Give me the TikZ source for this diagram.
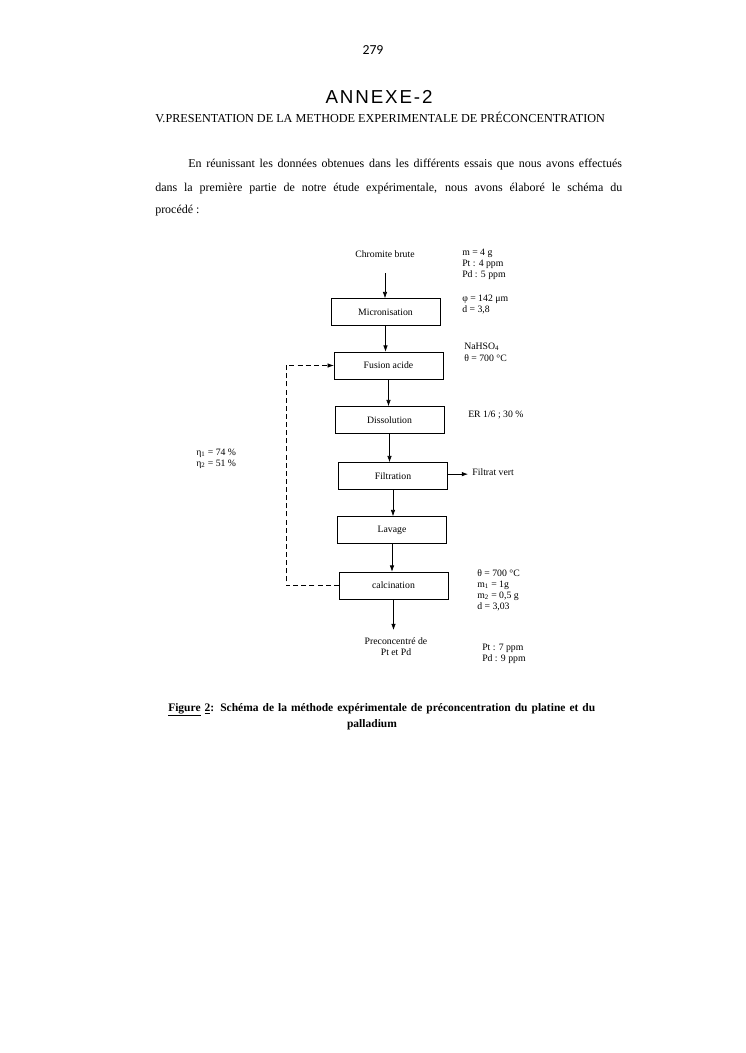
\documentclass[tikz,border=0pt]{standalone}
\usepackage{fontspec}
\setmainfont{Liberation Serif}
\newfontfamily\pagenumfont{Carlito}
\newfontfamily\handfont[LetterSpace=10]{Liberation Sans}
\usetikzlibrary{positioning, arrows.meta, calc}

\begin{document}
\begin{tikzpicture}[
    x=0.8pt, y=-0.8pt,
    etape/.style={
      draw, line width=0.5pt, minimum width=87pt,
      minimum height=21.6pt, inner sep=0pt, font=\fontsize{7.8}{9}\selectfont
    },
    note/.style={anchor=north west, align=left, inner sep=0pt,
      font=\fontsize{7.8}{8.8}\selectfont},
    fleche/.style={-{Latex[length=5pt,width=3.6pt]}, line width=0.5pt},
    retour/.style={dash pattern=on 4pt off 2.5pt, line width=0.5pt},
    ligne/.style={anchor=base west, inner sep=0pt, font=\fontsize{9.6}{11}\selectfont},
]
    \useasboundingbox[fill=white] (0,0) rectangle (745,1053);

    % En-tete de page
    \node[font=\pagenumfont\fontsize{11}{12}\selectfont] (page) at (373,50) {279};
    \node[font=\handfont\fontsize{15}{16}\selectfont] (annexe) at (379,97) {ANNEXE-2};
    \node[anchor=base west, inner sep=0pt, font=\fontsize{9.75}{11}\selectfont] (titre)
      at (155,122) {V.PRESENTATION DE LA METHODE EXPERIMENTALE DE PRÉCONCENTRATION};

    \node[ligne] (l1) at (188,167)
      {\makebox[347pt][s]{En réunissant les données obtenues dans les différents essais que nous avons effectués}};
    \node[ligne] (l2) at (155,191)
      {\makebox[373.6pt][s]{dans la première partie de notre étude expérimentale, nous avons élaboré le schéma du}};
    \node[ligne] (l3) at (155,213) {procédé :};

    % Etapes du procede
    \node[font=\fontsize{7.8}{9}\selectfont] (chromite) at (385,254) {Chromite brute};
    \node[etape] (micro) at (385.5,312) {Micronisation};
    \node[etape] (fusion) at (388.5,365.5) {Fusion acide};
    \node[etape] (dissol) at (389.5,420) {Dissolution};
    \node[etape] (filtr) at (393,476) {Filtration};
    \node[etape] (lavage) at (392,530) {Lavage};
    \node[etape] (calcin) at (393.5,585.5) {calcination};
    \node[align=center, font=\fontsize{7.8}{8.6}\selectfont] (preco) at (396,647)
      {Preconcentré de\\Pt et Pd};
    \node[anchor=west, font=\fontsize{7.8}{9}\selectfont] (filtrat) at (468,472) {Filtrat vert};

    \draw[fleche, shorten <=9pt] (chromite) -- (chromite |- micro.north);
    \draw[fleche] (micro.south) -- (micro.south |- fusion.north);
    \draw[fleche] (fusion.south) -- (fusion.south |- dissol.north);
    \draw[fleche] (dissol.south) -- (dissol.south |- filtr.north);
    \draw[fleche] (filtr.south) -- (filtr.south |- lavage.north);
    \draw[fleche] (lavage.south) -- (lavage.south |- calcin.north);
    \draw[fleche, shorten >=3pt] (calcin.south) -- (calcin.south |- preco.north);
    \draw[fleche] ([yshift=1.5pt]filtr.east) -- ([yshift=1.5pt]filtr.east -| filtrat.west);

    % Recyclage
    \coordinate (boucle) at (286,585.5);
    \draw[retour, fleche] (calcin.west) -- (boucle) |- (fusion.west);

    % Conditions
    \node[note] (n-chromite) at (462,249) {m = 4 g\\Pt : 4 ppm\\Pd : 5 ppm};
    \node[note] (n-micro) at (462,295) {φ = 142 μm\\d = 3,8};
    \node[note] (n-fusion) at (464,343) {NaHSO\textsubscript{4}\\[1pt]θ = 700 °C};
    \node[note, anchor=west] (n-dissol) at (468,415) {ER 1/6 ; 30 \%};
    \node[note] (n-calcin) at (477,569)
      {θ = 700 °C\\m\textsubscript{1} = 1g\\m\textsubscript{2} = 0,5 g\\d = 3,03};
    \node[note] (n-preco) at (482,644) {Pt : 7 ppm\\Pd : 9 ppm};
    \node[note] (rendement) at (196,449) {η\textsubscript{1} = 74 \%\\η\textsubscript{2} = 51 \%};

    % Legende
    \node[anchor=base west, inner sep=0pt, font=\bfseries\fontsize{9.2}{11}\selectfont] (leg1)
      at (168,711) {\makebox[341.6pt][s]{\underline{Figure} \underline{2}: Schéma de la méthode expérimentale de préconcentration du platine et du}};
    \node[anchor=base, inner sep=0pt, font=\bfseries\fontsize{9.2}{11}\selectfont] (leg2)
      at (372,727) {palladium};
\end{tikzpicture}
\end{document}
